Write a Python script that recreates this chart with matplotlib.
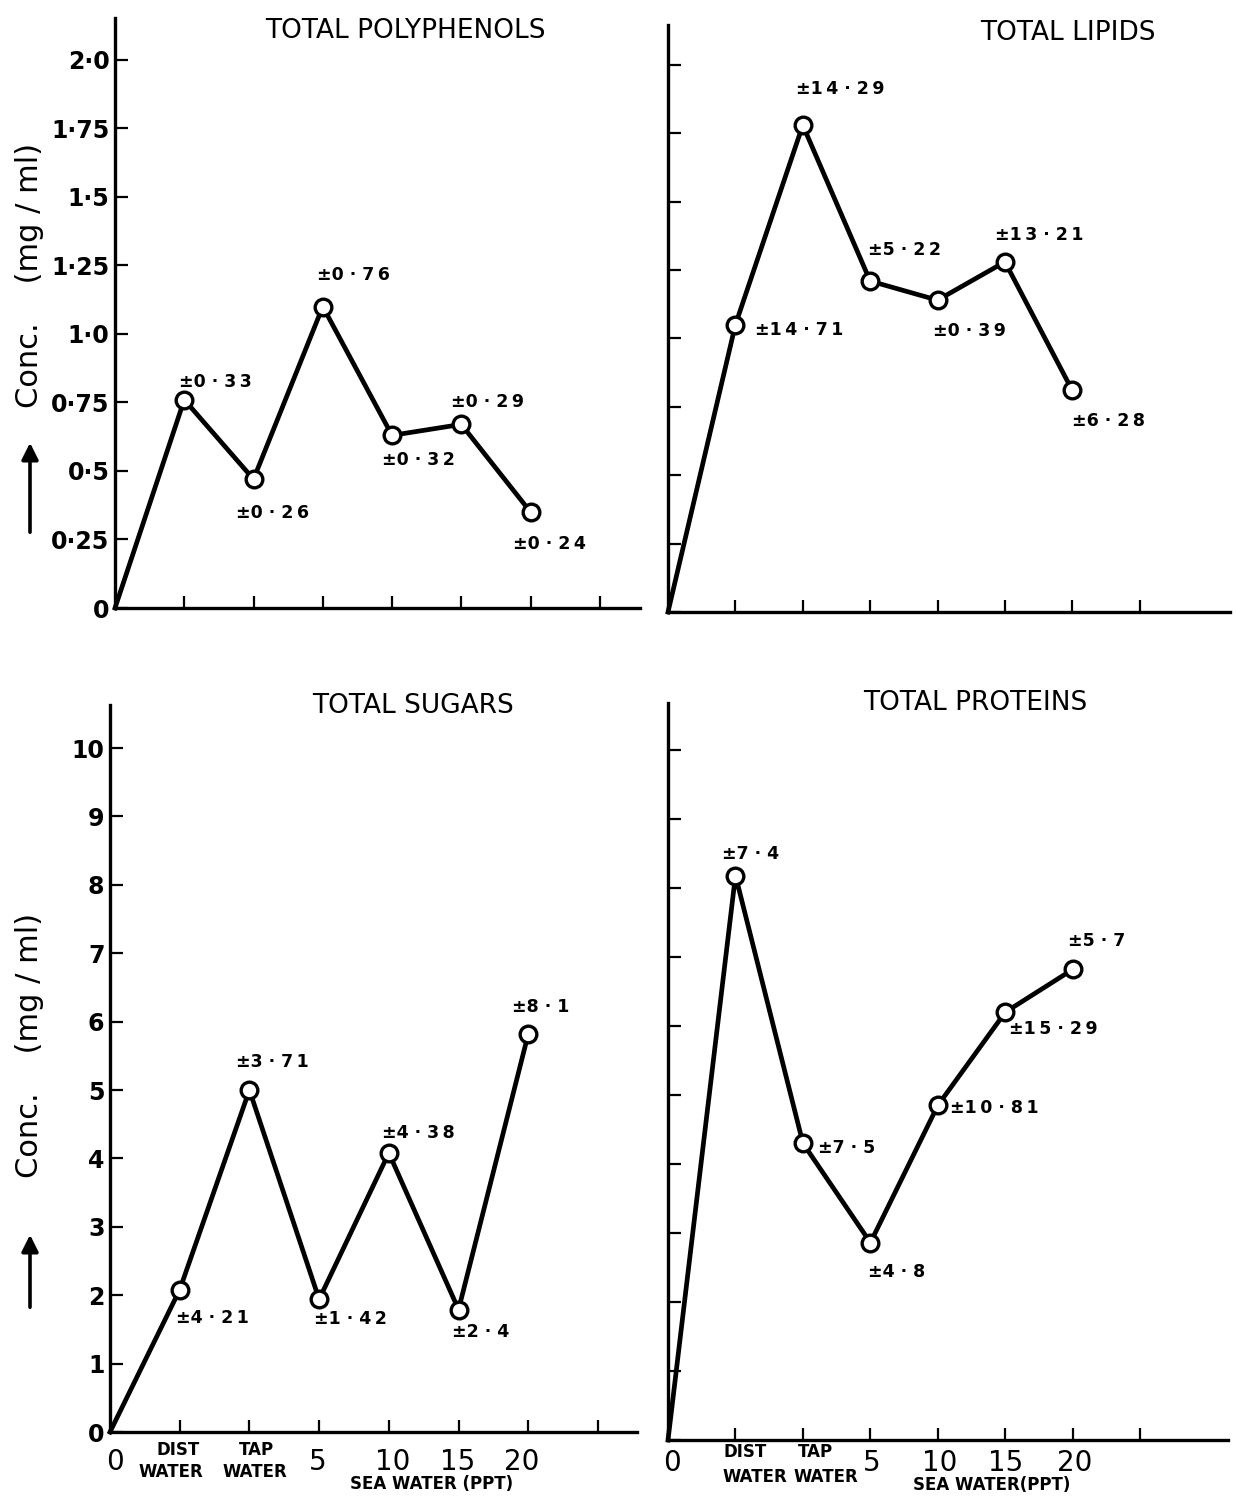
import matplotlib
matplotlib.use('Agg')
import matplotlib.pyplot as plt
import matplotlib.transforms as mtransforms

# x positions: origin, distilled water, tap water, sea water 5/10/15/20 ppt
x_pos = [0, 1, 2, 3, 4, 5, 6]

polyphenols = [0, 0.76, 0.47, 1.10, 0.63, 0.67, 0.35]
polyphenols_err = ['±0·33', '±0·26', '±0·76', '±0·32', '±0·29', '±0·24']

lipids = [0, 1.05, 1.78, 1.21, 1.14, 1.28, 0.81]
lipids_err = ['±14·71', '±14·29', '±5·22', '±0·39', '±13·21', '±6·28']

sugars = [0, 2.08, 5.0, 1.94, 4.08, 1.79, 5.82]
sugars_err = ['±4·21', '±3·71', '±1·42', '±4·38', '±2·4', '±8·1']

proteins = [0, 8.18, 4.3, 2.86, 4.85, 6.2, 6.82]
proteins_err = ['±7·4', '±7·5', '±4·8', '±10·81', '±15·29', '±5·7']

top_ticks = [0, 0.25, 0.5, 0.75, 1.0, 1.25, 1.5, 1.75, 2.0]
top_ticklabels = ['0', '0·25', '0·5', '0·75', '1·0', '1·25', '1·5', '1·75', '2·0']
bottom_ticks = [0, 1, 2, 3, 4, 5, 6, 7, 8, 9, 10]

# label offsets in pixels (dx, dy) from each marker
off_poly = [(-5, 18), (-18, -34), (-6, 32), (-10, -25), (-10, 22), (-18, -32)]
off_lip = [(20, -5), (-7, 36), (-2, 31), (-5, -31), (-10, 27), (0, -31)]
off_sug = [(-4, -28), (-13, 28), (-5, -20), (-7, 20), (-7, -22), (-16, 27)]
off_prot = [(-13, 22), (15, -5), (-2, -29), (12, -3), (4, -17), (-5, 28)]

W, H = 1236, 1497
fig = plt.figure(figsize=(W / 100, H / 100), dpi=100)
plt.rcParams['font.family'] = 'DejaVu Sans'


def box(left, right, top, bottom):
    return [left / W, 1 - bottom / H, (right - left) / W, (bottom - top) / H]


def spaced(t):
    # typewriter-like wide spacing of the +/- labels
    out = t[0]
    body = t[1:].replace('·', ' · ')
    prev = ''
    for c in body:
        if c.isdigit() and prev.isdigit():
            out += '\u2009'
        out += c
        prev = c
    return out


def style_axes(ax):
    for s in ['top', 'right']:
        ax.spines[s].set_visible(False)
    for s in ['left', 'bottom']:
        ax.spines[s].set_linewidth(2.4)
    ax.tick_params(direction='in', length=9, width=1.6, pad=4)
    ax.set_xticks(range(1, 8))
    ax.set_xticklabels([])
    ax.set_facecolor('white')


def draw_series(ax, y, errs, offs):
    ax.plot(x_pos, y, color='black', lw=3.4, solid_joinstyle='miter', zorder=3, clip_on=False)
    ax.plot(x_pos[1:], y[1:], 'o', ms=12, mfc='white', mec='black', mew=2.4, zorder=4)
    for xi, yi, t, (dx, dy) in zip(x_pos[1:], y[1:], errs, offs):
        ax.annotate(spaced(t), (xi, yi), xytext=(dx, dy), textcoords='offset pixels',
                    ha='left', va='center', fontsize=12.5, fontweight='bold')


ax1 = fig.add_axes(box(115, 640, 18, 608))
ax2 = fig.add_axes(box(668, 1230, 25, 612))
ax3 = fig.add_axes(box(110, 637, 705, 1432))
ax4 = fig.add_axes(box(668, 1228, 703, 1440))

for ax in (ax1, ax2, ax3, ax4):
    style_axes(ax)

ax1.set_xlim(0, 7.58)
ax1.set_ylim(0, 2.153)
ax2.set_xlim(0, 8.34)
ax2.set_ylim(0, 2.146)
ax3.set_xlim(0, 7.56)
ax3.set_ylim(0, 10.63)
ax4.set_xlim(0, 8.3)
ax4.set_ylim(0, 10.68)

ax1.set_yticks(top_ticks)
ax1.set_yticklabels(top_ticklabels, fontsize=17, fontweight='bold')
ax2.set_yticks(top_ticks)
ax2.set_yticklabels([])
ax3.set_yticks(bottom_ticks)
ax3.set_yticklabels([str(v) for v in bottom_ticks], fontsize=17, fontweight='bold')
ax4.set_yticks(bottom_ticks)
ax4.set_yticklabels([])

draw_series(ax1, polyphenols, polyphenols_err, off_poly)
draw_series(ax2, lipids, lipids_err, off_lip)
draw_series(ax3, sugars, sugars_err, off_sug)
draw_series(ax4, proteins, proteins_err, off_prot)

title_kw = dict(ha='center', va='center', fontsize=19)
ax1.text(0.553, 0.978, 'TOTAL POLYPHENOLS', transform=ax1.transAxes, **title_kw)
ax2.text(0.712, 0.987, 'TOTAL LIPIDS', transform=ax2.transAxes, **title_kw)
ax3.text(0.575, 0.999, 'TOTAL SUGARS', transform=ax3.transAxes, **title_kw)
ax4.text(0.549, 1.0, 'TOTAL PROTEINS', transform=ax4.transAxes, **title_kw)


def x_labels(ax, pos, dys, sea_text):
    # pos: x data positions for 0, DIST, WATER, TAP, WATER, 5, 10, 15, 20, SEA WATER
    tr = mtransforms.blended_transform_factory(ax.transData, ax.transAxes)
    big = dict(fontsize=20, ha='center', va='center', transform=tr)
    small = dict(fontsize=12, fontweight='bold', ha='center', va='center', transform=tr)
    h = ax.get_position().height * H
    d_num, d_top, d_bot, d_sea = [-v / h for v in dys]
    ax.text(pos[0], d_num, '0', **big)
    ax.text(pos[1], d_top, 'DIST', **small)
    ax.text(pos[2], d_bot, 'WATER', **small)
    ax.text(pos[3], d_top, 'TAP', **small)
    ax.text(pos[4], d_bot, 'WATER', **small)
    for p, t in zip(pos[5:9], ['5', '10', '15', '20']):
        ax.text(p, d_num, t, **big)
    ax.text(pos[9], d_sea, sea_text, **small)


x_labels(ax3, [0.07, 0.98, 0.87, 2.1, 2.08, 2.98, 4.05, 4.98, 5.9, 4.62], (30, 18, 40, 52),
         'SEA WATER (PPT)')
x_labels(ax4, [0.06, 1.14, 1.29, 2.18, 2.34, 3.02, 4.03, 5.0, 6.03, 4.8], (23, 12, 37, 45),
         'SEA WATER(PPT)')

# y-axis titles with upward arrows
for yc, tail, head in [(275, 535, 440), (1045, 1310, 1232)]:
    fig.text(30 / W, 1 - yc / H, 'Conc.    (mg / ml)', rotation=90, ha='center', va='center', fontsize=22)
    fig.patches.append(matplotlib.patches.FancyArrowPatch(
        (30 / W, 1 - tail / H), (30 / W, 1 - head / H), transform=fig.transFigure,
        arrowstyle='-|>,head_length=10,head_width=5', lw=2.6, color='black'))

fig.savefig('out.png', dpi=100, facecolor='white')
